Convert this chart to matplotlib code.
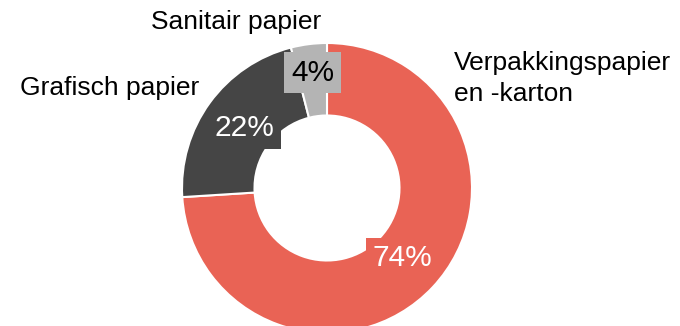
import numpy as np
import matplotlib.pyplot as plt

plt.rcParams['font.family'] = ['Liberation Sans', 'DejaVu Sans']

# Paper production by category (share, %)
categories = ['Verpakkingspapier\nen -karton', 'Grafisch papier', 'Sanitair papier']
shares = [74, 22, 4]
colors = ['#E96355', '#454545', '#B4B4B4']
pct_colors = ['white', 'white', 'black']

W, H = 680, 326
fig = plt.figure(figsize=(W / 100, H / 100), dpi=100)

# donut: centre at (327, 188) px, radius 145 px
cx, cy, R = 327, 188, 145
ax = fig.add_axes([(cx - R) / W, (H - cy - R) / H, 2 * R / W, 2 * R / H])
wedges, _ = ax.pie(shares, colors=colors, startangle=90, counterclock=False,
                   radius=1, wedgeprops=dict(width=0.5, edgecolor='white', linewidth=1.5))
ax.set_xlim(-1, 1)
ax.set_ylim(-1, 1)
ax.set_aspect('equal')
ax.axis('off')
for w in wedges:
    w.set_clip_on(False)

# percentage labels in boxes of the wedge colour
dist = [0.71, 0.70, 0.80]
for w, s, c, tc, d in zip(wedges, shares, colors, pct_colors, dist):
    ang = np.deg2rad((w.theta1 + w.theta2) / 2)
    ax.text(d * np.cos(ang), d * np.sin(ang), f'{s}%', ha='center', va='center',
            fontsize=21.5, color=tc, clip_on=False,
            bbox=dict(boxstyle='square,pad=0.22', fc=c, ec='none'))

# category labels
fig.text(454 / W, 1 - 51 / H, categories[0], ha='left', va='top', fontsize=19,
         linespacing=1.35)
fig.text(110 / W, 1 - 88 / H, categories[1], ha='center', va='center', fontsize=19)
fig.text(236 / W, 1 - 22 / H, categories[2], ha='center', va='center', fontsize=19)

fig.savefig('out.png', dpi=100)
